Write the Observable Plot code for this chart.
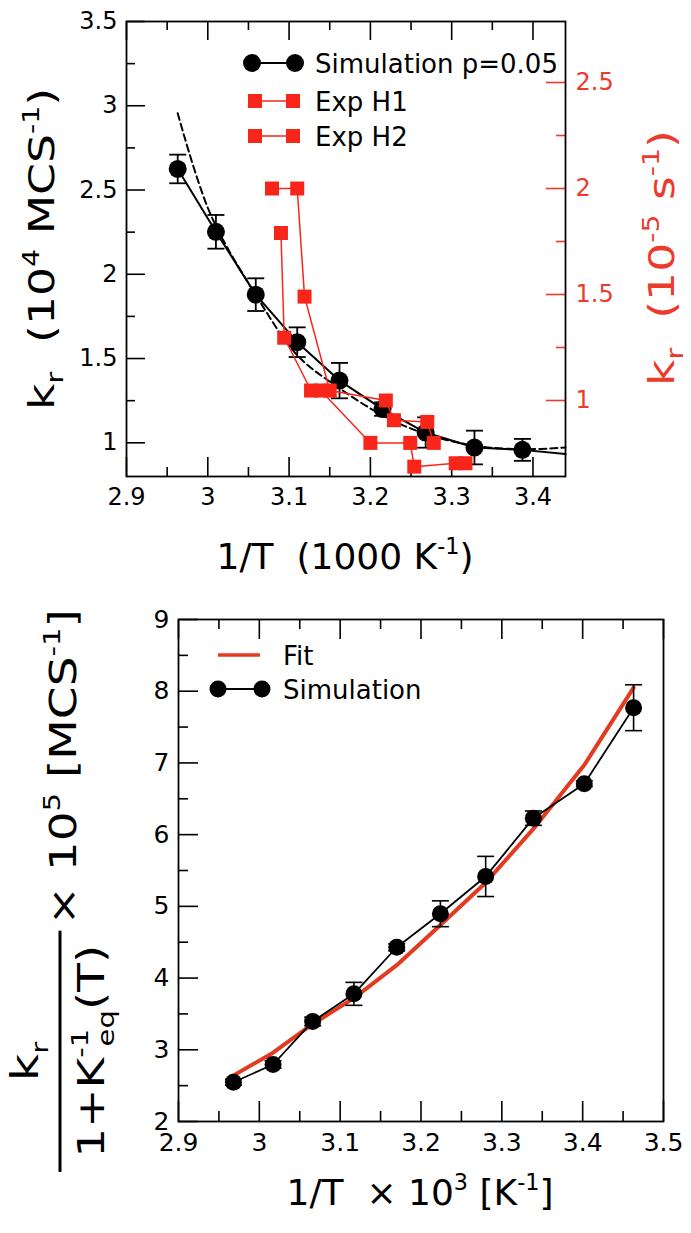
<!DOCTYPE html>
<html><head><meta charset="utf-8">
<script src="https://cdn.jsdelivr.net/npm/d3@7"></script>
<script src="https://cdn.jsdelivr.net/npm/@observablehq/plot@0.6"></script>
<style>
body{margin:0;background:#fff;}
#wrap{width:691px;}
#wrap svg{display:block;}
</style></head><body><div id="wrap"></div>
<script>
// ---------- DATA: top panel ----------
const simX   = [2.963, 3.010, 3.059, 3.110, 3.162, 3.215, 3.268, 3.328, 3.387];
const simY   = [2.625, 2.252, 1.879, 1.597, 1.369, 1.200, 1.061, 0.972, 0.958];
const simErr = [0.085, 0.100, 0.097, 0.088, 0.105, 0.040, 0.090, 0.100, 0.065];
const simTailX = [3.387, 3.44];
const simTailY = [0.958, 0.933];
const dashX = [2.963, 3.003, 3.060, 3.110, 3.160, 3.220, 3.270, 3.330, 3.390, 3.440];
const dashY = [2.956, 2.360, 1.870, 1.520, 1.330, 1.150, 1.050, 0.982, 0.962, 0.972];
const h1X = [3.079, 3.110, 3.119, 3.150, 3.219, 3.229, 3.270, 3.278];
const h1Y = [2.00, 2.00, 1.49, 1.047, 1.00, 0.907, 0.899, 0.80];   // right axis units (10^-5 s^-1)
const h2X = [3.090, 3.094, 3.127, 3.139, 3.200, 3.249, 3.254, 3.305, 3.317];
const h2Y = [1.79, 1.296, 1.047, 1.047, 0.80, 0.80, 0.688, 0.704, 0.704];
const topMajorX = [2.9, 3.0, 3.1, 3.2, 3.3, 3.4];
const topMinorX = [2.95, 3.05, 3.15, 3.25, 3.35];
const leftMajor = [1, 1.5, 2, 2.5, 3, 3.5];
const leftMinor = [1.25, 1.75, 2.25, 2.75, 3.25];
const rightMajor = [1, 1.5, 2, 2.5];
const rightMinor = [1.25, 1.75, 2.25];

// ---------- DATA: bottom panel ----------
const x2   = [2.968, 3.017, 3.066, 3.117, 3.170, 3.224, 3.280, 3.339, 3.402, 3.463];
const y2   = [2.548, 2.795, 3.395, 3.780, 4.430, 4.897, 5.417, 6.230, 6.710, 7.770];
const err2 = [0.04, 0.05, 0.06, 0.16, 0.05, 0.18, 0.28, 0.10, 0.04, 0.32];
const fit2 = [2.64, 2.96, 3.36, 3.72, 4.18, 4.74, 5.33, 6.08, 6.97, 8.05];
const botMajorX = [2.9, 3.0, 3.1, 3.2, 3.3, 3.4, 3.5];
const botMinorX = [2.95, 3.05, 3.15, 3.25, 3.35, 3.45];
const botMajorY = [2, 3, 4, 5, 6, 7, 8, 9];
const botMinorY = [2.5, 3.5, 4.5, 5.5, 6.5, 7.5, 8.5];

// ---------- styling ----------
const FONT = "DejaVu Sans, Liberation Sans, sans-serif";
const RED = "#f8261a";
const RED_AXIS = "#ec3a2c";
const RED_FIT = "#e33b20";
const TICK_FS = 24, TITLE_FS = 36, LEG_FS = 26;
const MAJ = 19, MIN = 9;
const STRETCH = 1.27;   // rotated titles are elongated in the reference

// secondary (right) axis: left value = RA + (r - 1) * RS
const RA = 1.251, RS = 1.258;
const toLeft = r => RA + (r - 1) * RS;
const fromLeft = l => Math.round(((l - RA) / RS + 1) * 100) / 100;

const capSymbol = {draw(ctx, size) { const w = Math.sqrt(size / Math.PI); ctx.moveTo(-w, 0); ctx.lineTo(w, 0); }};

const sim = simX.map((x, i) => ({x, y: simY[i], lo: simY[i] - simErr[i], hi: simY[i] + simErr[i]}));
const simLine = sim.map(d => ({x: d.x, y: d.y})).concat(simTailX.slice(1).map((x, i) => ({x, y: simTailY[i + 1]})));
const dash = dashX.map((x, i) => ({x, y: dashY[i]}));
const h1 = h1X.map((x, i) => ({x, y: toLeft(h1Y[i])}));
const h2 = h2X.map((x, i) => ({x, y: toLeft(h2Y[i])}));

function richText(parent, segs, {x, y, size, anchor = "middle", rotate = 0, fill = "black", stretch = 1}) {
  const t = parent.append("text")
    .attr("transform", `translate(${x},${y}) scale(1,${stretch}) rotate(${rotate})`)
    .attr("text-anchor", anchor).attr("font-size", size).attr("fill", fill)
    .attr("font-family", FONT).style("white-space", "pre");
  let shift = 0;
  for (const s of segs) {
    const target = s.sup ? -0.42 * size : s.sub ? 0.26 * size : 0;
    const ts = t.append("tspan").text(s.t).attr("dy", target - shift);
    if (s.sup || s.sub) ts.attr("font-size", size * 0.62);
    if (s.dx) ts.attr("dx", s.dx);
    shift = target;
  }
  return t;
}

// ---------- TOP PANEL ----------
const W = 691, H1 = 585;
const mT = 21, mB = 109, mL = 126, mR = 126;
const pw = W - mL - mR, ph = H1 - mT - mB;

const topChart = Plot.plot({
  width: W, height: H1, marginTop: mT, marginBottom: mB, marginLeft: mL, marginRight: mR,
  x: {domain: [2.9, 3.44]},
  y: {domain: [0.8, 3.5]},
  style: {fontFamily: FONT, background: "white", color: "black", overflow: "visible"},
  marks: [
    Plot.tickX(topMajorX, {x: d => d, insetTop: ph - MAJ, strokeWidth: 1.6}),
    Plot.tickX(topMinorX, {x: d => d, insetTop: ph - MIN, strokeWidth: 1.6}),
    Plot.tickX(topMajorX, {x: d => d, insetBottom: ph - MAJ, strokeWidth: 1.6}),
    Plot.tickX(topMinorX, {x: d => d, insetBottom: ph - MIN, strokeWidth: 1.6}),
    Plot.tickY(leftMajor, {y: d => d, insetRight: pw - MAJ, strokeWidth: 1.6}),
    Plot.tickY(leftMinor, {y: d => d, insetRight: pw - MIN, strokeWidth: 1.6}),
    Plot.tickY(rightMajor.map(toLeft), {y: d => d, insetLeft: pw - MAJ, stroke: RED_AXIS, strokeWidth: 1.6}),
    Plot.tickY(rightMinor.map(toLeft), {y: d => d, insetLeft: pw - MIN, stroke: RED_AXIS, strokeWidth: 1.6}),
    Plot.axisX(topMajorX, {tickSize: 0, tickPadding: 11, fontSize: TICK_FS, label: null, tickFormat: d => String(+d.toFixed(2))}),
    Plot.axisY(leftMajor, {anchor: "left", tickSize: 0, tickPadding: 9, fontSize: TICK_FS, label: null, tickFormat: d => String(d)}),
    Plot.axisY(rightMajor.map(toLeft), {anchor: "right", tickSize: 0, tickPadding: 10, fontSize: TICK_FS, label: null, fill: RED_AXIS, tickFormat: d => String(fromLeft(d))}),
    Plot.line(dash, {x: "x", y: "y", stroke: "black", strokeWidth: 2, strokeDasharray: "7,4", curve: "catmull-rom"}),
    Plot.line(simLine, {x: "x", y: "y", stroke: "black", strokeWidth: 2}),
    Plot.ruleX(sim, {x: "x", y1: "lo", y2: "hi", stroke: "black", strokeWidth: 1.8}),
    Plot.dot(sim, {x: "x", y: "lo", symbol: capSymbol, r: 8.5, fill: "none", stroke: "black", strokeWidth: 1.8}),
    Plot.dot(sim, {x: "x", y: "hi", symbol: capSymbol, r: 8.5, fill: "none", stroke: "black", strokeWidth: 1.8}),
    Plot.dot(sim, {x: "x", y: "y", r: 9, fill: "black", stroke: "none"}),
    Plot.line(h1, {x: "x", y: "y", stroke: RED, strokeWidth: 1.5}),
    Plot.line(h2, {x: "x", y: "y", stroke: RED, strokeWidth: 1.5}),
    Plot.dot(h1, {x: "x", y: "y", symbol: "square", r: 7.9, fill: RED, stroke: "none"}),
    Plot.dot(h2, {x: "x", y: "y", symbol: "square", r: 7.9, fill: RED, stroke: "none"}),
    Plot.frame({stroke: "black", strokeWidth: 1.8})
  ]
});

{
  const s = d3.select(topChart);
  const L = s.append("g").attr("font-family", FONT).attr("text-anchor", "start");
  const rows = [
    {y: 63, label: "Simulation p=0.05", kind: "circle"},
    {y: 101, label: "Exp H1", kind: "square"},
    {y: 136, label: "Exp H2", kind: "square"}
  ];
  for (const r of rows) {
    const col = r.kind === "circle" ? "black" : RED;
    const xa = r.kind === "circle" ? 252 : 255, xb = r.kind === "circle" ? 295 : 293;
    L.append("line").attr("x1", xa).attr("x2", xb).attr("y1", r.y).attr("y2", r.y)
      .attr("stroke", col).attr("stroke-width", r.kind === "circle" ? 2 : 1.5);
    for (const cx of [xa, xb]) {
      if (r.kind === "circle") L.append("circle").attr("cx", cx).attr("cy", r.y).attr("r", 9).attr("fill", col);
      else L.append("rect").attr("x", cx - 7).attr("y", r.y - 7).attr("width", 14).attr("height", 14).attr("fill", col);
    }
    L.append("text").attr("x", 315).attr("y", r.y + 9.5).attr("font-size", LEG_FS).attr("fill", "black")
      .attr("text-anchor", "start").text(r.label);
  }
  richText(s, [{t: "k"}, {t: "r", sub: true}, {t: "  (10"}, {t: "4", sup: true}, {t: " MCS"}, {t: "-1", sup: true}, {t: ")"}],
    {x: 54, y: 249, size: TITLE_FS, rotate: -90, stretch: STRETCH});
  richText(s, [{t: "1/T  (1000 K"}, {t: "-1", sup: true}, {t: ")"}],
    {x: 345, y: 569, size: TITLE_FS});
  richText(s, [{t: "k"}, {t: "r", sub: true}, {t: "  (10"}, {t: "-5", sup: true}, {t: " s"}, {t: "-1", sup: true}, {t: ")"}],
    {x: 674, y: 258, size: TITLE_FS, rotate: -90, fill: RED_AXIS, stretch: STRETCH});
}
document.getElementById("wrap").appendChild(topChart);

// ---------- BOTTOM PANEL ----------
const H2 = 1233 - H1;
const bT = 34, bB = 112, bL = 178, bR = 28;
const pw2 = W - bL - bR, ph2 = H2 - bT - bB;
const sim2 = x2.map((x, i) => ({x, y: y2[i], lo: y2[i] - err2[i], hi: y2[i] + err2[i]}));
const fitLine = x2.map((x, i) => ({x, y: fit2[i]}));

const bottomChart = Plot.plot({
  width: W, height: H2, marginTop: bT, marginBottom: bB, marginLeft: bL, marginRight: bR,
  x: {domain: [2.9, 3.5]},
  y: {domain: [2, 9]},
  style: {fontFamily: FONT, background: "white", color: "black", overflow: "visible"},
  marks: [
    Plot.tickX(botMajorX, {x: d => d, insetTop: ph2 - MAJ - 1, strokeWidth: 1.6}),
    Plot.tickX(botMinorX, {x: d => d, insetTop: ph2 - MIN - 1, strokeWidth: 1.6}),
    Plot.tickX(botMajorX, {x: d => d, insetBottom: ph2 - MAJ - 1, strokeWidth: 1.6}),
    Plot.tickX(botMinorX, {x: d => d, insetBottom: ph2 - MIN - 1, strokeWidth: 1.6}),
    Plot.tickY(botMajorY, {y: d => d, insetRight: pw2 - MAJ - 1, strokeWidth: 1.6}),
    Plot.tickY(botMinorY, {y: d => d, insetRight: pw2 - MIN - 1, strokeWidth: 1.6}),
    Plot.axisX(botMajorX, {tickSize: 0, tickPadding: 12, fontSize: TICK_FS + 1, label: null, tickFormat: d => String(+d.toFixed(2))}),
    Plot.axisY(botMajorY, {anchor: "left", tickSize: 0, tickPadding: 9, fontSize: TICK_FS + 1, label: null, tickFormat: d => String(d)}),
    Plot.line(fitLine, {x: "x", y: "y", stroke: RED_FIT, strokeWidth: 4}),
    Plot.line(sim2, {x: "x", y: "y", stroke: "black", strokeWidth: 1.8}),
    Plot.ruleX(sim2, {x: "x", y1: "lo", y2: "hi", stroke: "black", strokeWidth: 1.6}),
    Plot.dot(sim2, {x: "x", y: "lo", symbol: capSymbol, r: 8.5, fill: "none", stroke: "black", strokeWidth: 1.6}),
    Plot.dot(sim2, {x: "x", y: "hi", symbol: capSymbol, r: 8.5, fill: "none", stroke: "black", strokeWidth: 1.6}),
    Plot.dot(sim2, {x: "x", y: "y", r: 8.5, fill: "black", stroke: "none"}),
    Plot.frame({stroke: "black", strokeWidth: 1.8})
  ]
});

{
  const s = d3.select(bottomChart);
  const L = s.append("g").attr("font-family", FONT).attr("text-anchor", "start");
  L.append("line").attr("x1", 218).attr("x2", 260).attr("y1", 70).attr("y2", 70).attr("stroke", RED_FIT).attr("stroke-width", 3.5);
  L.append("text").attr("x", 283).attr("y", 79.5).attr("font-size", LEG_FS).attr("text-anchor", "start").text("Fit");
  L.append("line").attr("x1", 218).attr("x2", 262).attr("y1", 104).attr("y2", 104).attr("stroke", "black").attr("stroke-width", 1.8);
  for (const cx of [218, 262]) L.append("circle").attr("cx", cx).attr("cy", 104).attr("r", 8.5).attr("fill", "black");
  L.append("text").attr("x", 283).attr("y", 113.5).attr("font-size", LEG_FS).attr("text-anchor", "start").text("Simulation");

  richText(s, [{t: "1/T  × 10"}, {t: "3", sup: true}, {t: " [K"}, {t: "-1", sup: true}, {t: "]"}],
    {x: 420, y: 620, size: TITLE_FS});

  // rotated fraction label, elongated about its centre like the other rotated titles
  const FS = 37, C = 305;
  const g = s.append("g").attr("transform", `translate(0,${C}) scale(1,${STRETCH}) translate(0,${-C})`);
  g.append("line").attr("x1", 60).attr("x2", 60).attr("y1", 337).attr("y2", 527).attr("stroke", "black").attr("stroke-width", 3);
  richText(g, [{t: "k"}, {t: "r", sub: true}], {x: 38, y: 440, size: FS, rotate: -90});
  richText(g, [{t: "1+K"}, {t: "-1", sup: true}, {t: "eq", sub: true, dx: -14}, {t: "(T)"}], {x: 104, y: 432, size: FS, rotate: -90});
  richText(g, [{t: "× 10"}, {t: "5", sup: true}, {t: " [MCS"}, {t: "-1", sup: true}, {t: "]"}], {x: 76, y: 333, size: FS, rotate: -90, anchor: "start"});
}
document.getElementById("wrap").appendChild(bottomChart);
</script></body></html>
